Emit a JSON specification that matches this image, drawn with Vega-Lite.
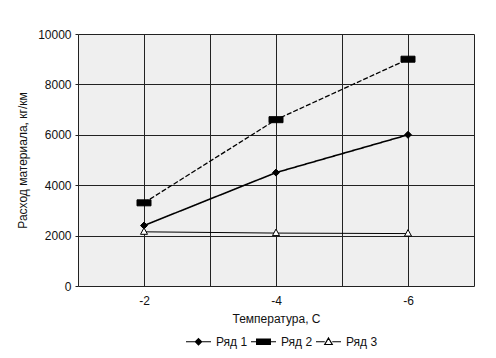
{
  "$schema": "https://vega.github.io/schema/vega-lite/v6.json",
  "width": 396,
  "height": 252,
  "autosize": "none",
  "padding": {"left": 78, "top": 34, "right": 22, "bottom": 72},
  "background": "white",
  "config": {
    "font": "Liberation Sans",
    "view": {"fill": "#efefef", "stroke": null},
    "axis": {"labelFont": "Liberation Sans", "titleFont": "Liberation Sans", "labelFontSize": 12, "titleFontSize": 12, "labelColor": "#111", "titleColor": "#111", "titleFontWeight": "normal", "gridColor": "#222", "gridOpacity": 1, "gridWidth": 1, "tickColor": "#222"}
  },
  "data": {"values": [
    {"t": -2, "v": 2400, "s": "Ряд 1"},
    {"t": -4, "v": 4500, "s": "Ряд 1"},
    {"t": -6, "v": 6000, "s": "Ряд 1"},
    {"t": -2, "v": 3300, "s": "Ряд 2"},
    {"t": -4, "v": 6600, "s": "Ряд 2"},
    {"t": -6, "v": 9000, "s": "Ряд 2"},
    {"t": -2, "v": 2150, "s": "Ряд 3"},
    {"t": -4, "v": 2100, "s": "Ряд 3"},
    {"t": -6, "v": 2080, "s": "Ряд 3"}
  ]},
  "encoding": {
    "x": {"field": "t", "type": "quantitative", "title": "Температура, С",
      "scale": {"domain": [-1, -7], "nice": false, "zero": false},
      "axis": {"values": [-1, -2, -3, -4, -5, -6, -7], "grid": true, "ticks": false, "domain": false, "labelPadding": 9, "titlePadding": 7,
        "labelExpr": "datum.value % 2 == 0 ? '' + datum.value : ''"}},
    "y": {"field": "v", "type": "quantitative", "title": "Расход материала, кг/км",
      "scale": {"domain": [0, 10000], "nice": false},
      "axis": {"values": [0, 2000, 4000, 6000, 8000, 10000], "grid": true, "domain": false, "tickSize": 3, "labelPadding": 4, "titlePadding": 8, "format": "d"}}
  },
  "layer": [
    {
      "mark": {"type": "line", "color": "black"},
      "encoding": {
        "detail": {"field": "s"},
        "strokeDash": {"field": "s", "type": "nominal", "scale": {"domain": ["Ряд 1", "Ряд 2", "Ряд 3"], "range": [[1, 0], [5, 2], [1, 0]]}, "legend": null},
        "strokeWidth": {"field": "s", "type": "nominal", "scale": {"domain": ["Ряд 1", "Ряд 2", "Ряд 3"], "range": [1.6, 1, 1.5]}, "legend": null}
      }
    },
    {
      "mark": {"type": "point", "size": 100, "stroke": "black", "strokeWidth": 1, "opacity": 1, "fillOpacity": 1},
      "encoding": {
        "shape": {"field": "s", "type": "nominal", "legend": null, "scale": {"domain": ["Ряд 1", "Ряд 2", "Ряд 3"], "range": ["M0,-0.7L0.7,0L0,0.7L-0.7,0Z", "M-1.4,-0.6H1.4V0.6H-1.4Z", "M0,-0.8L0.7,0.5L-0.7,0.5Z"]}},
        "fill": {"field": "s", "type": "nominal", "legend": null, "scale": {"domain": ["Ряд 1", "Ряд 2", "Ряд 3"], "range": ["black", "black", "white"]}}
      }
    },
    {
      "mark": {"type": "point", "size": 625, "stroke": "black", "strokeWidth": 1, "opacity": 0},
      "encoding": {
        "shape": {"field": "s", "type": "nominal", "title": null,
          "scale": {"domain": ["Ряд 1", "Ряд 2", "Ряд 3"], "range": ["M-1,0H1M0,-0.25L0.25,0L0,0.25L-0.25,0Z", "M-1,0H1M-0.55,-0.22H0.55V0.22H-0.55Z", "M-1,0H-0.3M0.3,0H1M0,-0.3L0.3,0.22L-0.3,0.22Z"]},
          "legend": {"orient": "none", "direction": "horizontal", "legendX": 107, "legendY": 294, "padding": 0, "columnPadding": 0, "labelOffset": 4, "symbolSize": 625, "symbolOpacity": 1, "symbolStrokeColor": "black", "symbolStrokeWidth": 1.2, "labelFont": "Liberation Sans", "labelFontSize": 12, "labelColor": "#111",
            "encode": {"symbols": {"update": {"stroke": {"value": "black"}, "strokeWidth": {"value": 1.2}, "strokeOpacity": {"value": 1}, "opacity": {"value": 1}, "fillOpacity": {"value": 1}}}}}},
        "fill": {"field": "s", "type": "nominal", "title": null,
          "scale": {"domain": ["Ряд 1", "Ряд 2", "Ряд 3"], "range": ["black", "black", "white"]},
          "legend": {"orient": "none", "direction": "horizontal", "legendX": 107, "legendY": 294, "padding": 0, "columnPadding": 0, "labelOffset": 4, "symbolSize": 625, "symbolOpacity": 1, "symbolStrokeColor": "black", "symbolStrokeWidth": 1.2, "labelFont": "Liberation Sans", "labelFontSize": 12, "labelColor": "#111",
            "encode": {"symbols": {"update": {"stroke": {"value": "black"}, "strokeWidth": {"value": 1.2}, "strokeOpacity": {"value": 1}, "opacity": {"value": 1}, "fillOpacity": {"value": 1}}}}}}
      }
    }
  ],
  "resolve": {"scale": {"shape": "independent", "fill": "independent", "strokeDash": "independent", "strokeWidth": "independent"}}
}
